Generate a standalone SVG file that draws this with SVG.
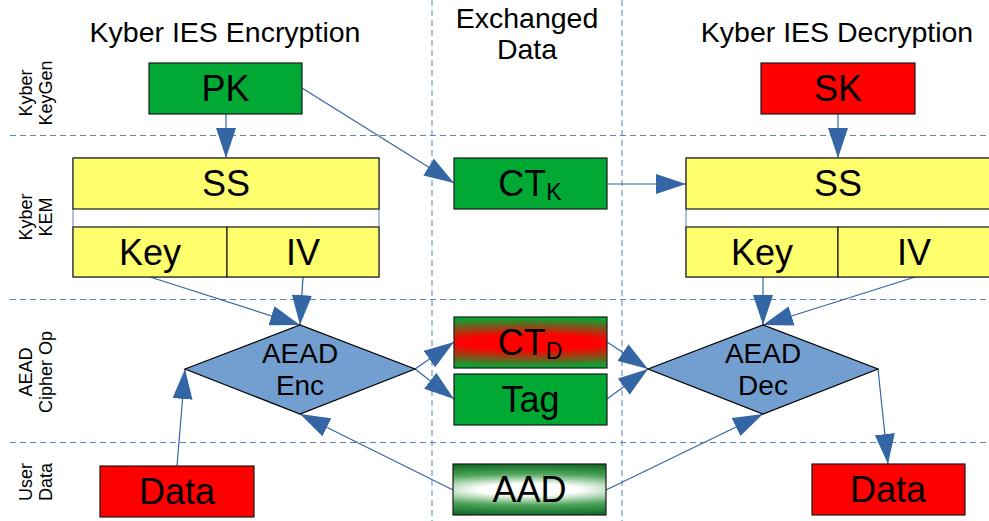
<svg xmlns="http://www.w3.org/2000/svg" width="989" height="521" viewBox="0 0 989 521">
  <style>
    text { font-family: "Liberation Sans", Arial, sans-serif; fill: #000; }
    .hdr { font-size: 28.5px; text-anchor: middle; }
    .row { font-size: 18px; text-anchor: middle; }
    .lbl { font-size: 36px; text-anchor: middle; }
    .dlbl { font-size: 28px; text-anchor: middle; }
    .grid { stroke: #5b83be; stroke-width: 1; stroke-dasharray: 6 4; fill: none; }
    .box { stroke: #1a1a1a; stroke-width: 1.2; }
    .green { fill: #00a933; }
    .red { fill: #ff0000; }
    .yellow { fill: #ffff6d; }
    .diamond { fill: #729fcf; stroke: #000; stroke-width: 1.2; }
    .frame { fill: #fff; stroke: #3465a4; stroke-width: 0.8; }
    .conn { stroke: #3465a4; stroke-width: 1.2; fill: none; marker-end: url(#arrow); }
  </style>
  <defs>
    <marker id="arrow" markerUnits="userSpaceOnUse" markerWidth="30" markerHeight="20" refX="30" refY="10" orient="auto">
      <path d="M0,0 L30,10 L0,20 z" fill="#3465a4"/>
    </marker>
    <radialGradient id="ctdGrad" gradientUnits="userSpaceOnUse" cx="0" cy="0" r="1" gradientTransform="translate(530.5 342.5) scale(230 25)">
      <stop offset="0" stop-color="#ff0000"/>
      <stop offset="0.3" stop-color="#ff0000"/>
      <stop offset="1" stop-color="#00a933"/>
    </radialGradient>
    <radialGradient id="aadGrad" gradientUnits="userSpaceOnUse" cx="0" cy="0" r="1" gradientTransform="translate(529.5 489.5) scale(230 26)">
      <stop offset="0" stop-color="#ffffff"/>
      <stop offset="0.22" stop-color="#ffffff"/>
      <stop offset="0.6" stop-color="#4ea55a"/>
      <stop offset="1" stop-color="#0f6a22"/>
    </radialGradient>
  </defs>

  <!-- headers -->
  <text class="hdr" x="225" y="42">Kyber IES Encryption</text>
  <text class="hdr" x="527" y="28">Exchanged</text>
  <text class="hdr" x="527" y="59">Data</text>
  <text class="hdr" x="837" y="42">Kyber IES Decryption</text>

  <!-- swimlane grid -->
  <g id="grid">
    <line class="grid" x1="432" y1="0" x2="432" y2="521"/>
    <line class="grid" x1="622" y1="0" x2="622" y2="521"/>
    <line class="grid" x1="10" y1="135.5" x2="989" y2="135.5"/>
    <line class="grid" x1="10" y1="299.5" x2="989" y2="299.5"/>
    <line class="grid" x1="10" y1="442.5" x2="989" y2="442.5"/>
  </g>

  <!-- row labels -->
  <g id="row-labels">
    <text class="row" transform="translate(32 93) rotate(-90)">Kyber</text>
    <text class="row" transform="translate(52 93) rotate(-90)">KeyGen</text>
    <text class="row" transform="translate(32 217) rotate(-90)">Kyber</text>
    <text class="row" transform="translate(52 217) rotate(-90)">KEM</text>
    <text class="row" transform="translate(32 372) rotate(-90)">AEAD</text>
    <text class="row" transform="translate(52 372) rotate(-90)">Cipher Op</text>
    <text class="row" transform="translate(32 482) rotate(-90)">User</text>
    <text class="row" transform="translate(52 482) rotate(-90)">Data</text>
  </g>

  <!-- connectors -->
  <g id="connectors">
    <line class="conn" x1="226" y1="114" x2="226" y2="158"/>
    <line class="conn" x1="302" y1="88" x2="454" y2="183"/>
    <line class="conn" x1="607" y1="184" x2="686" y2="184"/>
    <line class="conn" x1="838" y1="114" x2="838" y2="158"/>
    <line class="conn" x1="150" y1="277" x2="300" y2="325"/>
    <line class="conn" x1="303" y1="277" x2="300" y2="325"/>
    <line class="conn" x1="415" y1="369" x2="454" y2="342"/>
    <line class="conn" x1="415" y1="369" x2="454" y2="399"/>
    <line class="conn" x1="177" y1="466" x2="185" y2="369"/>
    <line class="conn" x1="453" y1="490" x2="300" y2="414"/>
    <line class="conn" x1="607" y1="342" x2="648" y2="369"/>
    <line class="conn" x1="607" y1="399" x2="648" y2="369"/>
    <line class="conn" x1="606" y1="490" x2="763" y2="414"/>
    <line class="conn" x1="763" y1="277" x2="763" y2="325"/>
    <line class="conn" x1="915" y1="277" x2="763" y2="325"/>
    <line class="conn" x1="878" y1="369" x2="888" y2="464"/>
  </g>

  <!-- encryption side -->
  <g id="pk">
    <rect class="box green" x="149" y="63" width="153" height="51"/>
    <text class="lbl" x="225.5" y="101">PK</text>
  </g>
  <g id="kem-enc">
    <rect class="frame" x="73" y="158" width="306" height="119"/>
    <g id="ss-enc">
      <rect class="box yellow" x="73" y="158" width="306" height="51"/>
      <text class="lbl" x="226" y="196">SS</text>
    </g>
    <g id="key-enc">
      <rect class="box yellow" x="73" y="227" width="154" height="50"/>
      <text class="lbl" x="150" y="265">Key</text>
    </g>
    <g id="iv-enc">
      <rect class="box yellow" x="227" y="227" width="152" height="50"/>
      <text class="lbl" x="303" y="265">IV</text>
    </g>
  </g>
  <g id="aead-enc">
    <polygon class="diamond" points="185,369 300,325 415,369 300,414"/>
    <text class="dlbl" x="300" y="363">AEAD</text>
    <text class="dlbl" x="300" y="395">Enc</text>
  </g>
  <g id="data-in">
    <rect class="box red" x="100" y="466" width="154" height="51"/>
    <text class="lbl" x="177" y="504">Data</text>
  </g>

  <!-- exchanged data -->
  <g id="ct-k">
    <rect class="box green" x="454" y="158" width="153" height="51"/>
    <text class="lbl" x="530" y="196">CT<tspan font-size="23" dy="4">K</tspan></text>
  </g>
  <g id="ct-d">
    <rect class="box" fill="url(#ctdGrad)" x="454" y="317" width="153" height="51"/>
    <text class="lbl" x="530" y="355">CT<tspan font-size="23" dy="4">D</tspan></text>
  </g>
  <g id="tag">
    <rect class="box green" x="454" y="374" width="153" height="51"/>
    <text class="lbl" x="530.5" y="412">Tag</text>
  </g>
  <g id="aad">
    <rect class="box" fill="url(#aadGrad)" x="453" y="464" width="153" height="51"/>
    <text class="lbl" x="529.5" y="502">AAD</text>
  </g>

  <!-- decryption side -->
  <g id="sk">
    <rect class="box red" x="761" y="63" width="154" height="51"/>
    <text class="lbl" x="838" y="101">SK</text>
  </g>
  <g id="kem-dec">
    <rect class="frame" x="686" y="158" width="305" height="119"/>
    <g id="ss-dec">
      <rect class="box yellow" x="686" y="158" width="305" height="51"/>
      <text class="lbl" x="838" y="196">SS</text>
    </g>
    <g id="key-dec">
      <rect class="box yellow" x="686" y="227" width="152" height="50"/>
      <text class="lbl" x="762" y="265">Key</text>
    </g>
    <g id="iv-dec">
      <rect class="box yellow" x="838" y="227" width="153" height="50"/>
      <text class="lbl" x="914" y="265">IV</text>
    </g>
  </g>
  <g id="aead-dec">
    <polygon class="diamond" points="648,369 763,325 878,369 763,414"/>
    <text class="dlbl" x="763" y="363">AEAD</text>
    <text class="dlbl" x="763" y="395">Dec</text>
  </g>
  <g id="data-out">
    <rect class="box red" x="812" y="464" width="153" height="51"/>
    <text class="lbl" x="888" y="502">Data</text>
  </g>
</svg>
